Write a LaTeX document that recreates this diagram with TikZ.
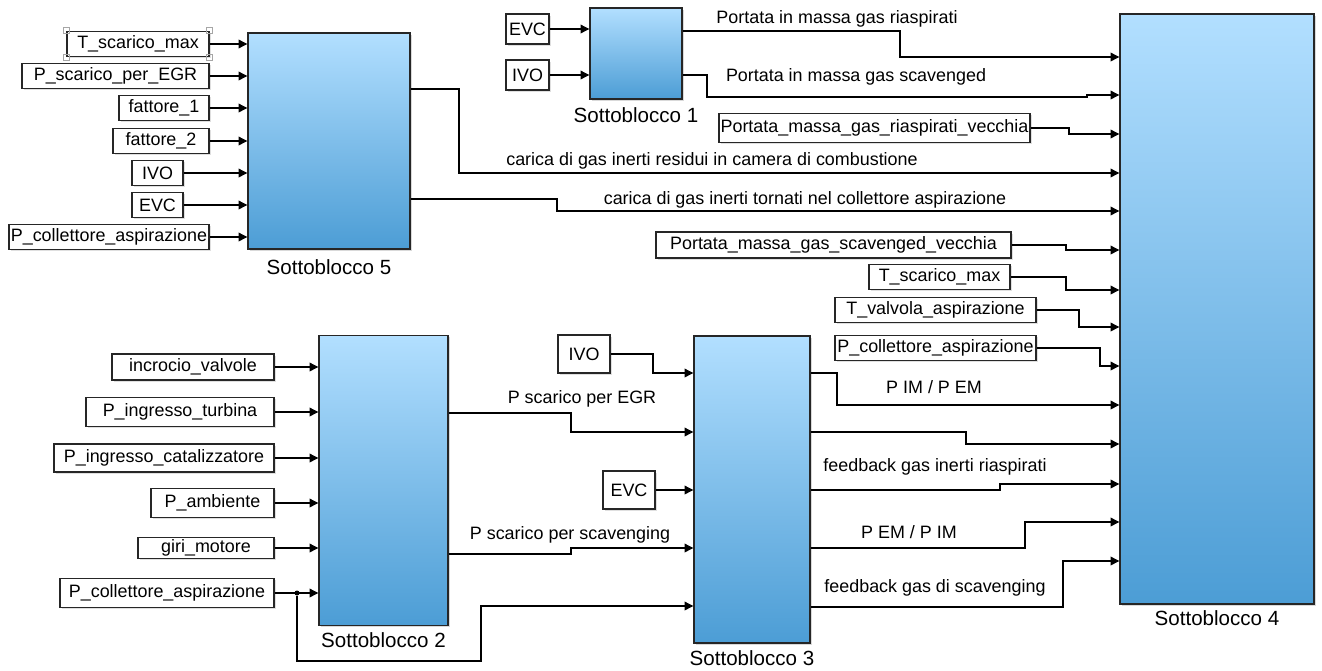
\documentclass[tikz,border=0pt]{standalone}
\usepackage{fontspec}
\setmainfont{Liberation Sans}
\usetikzlibrary{arrows.meta,positioning,shadows}
\definecolor{blktop}{RGB}{178,223,255}
\definecolor{blkbot}{RGB}{76,157,213}
\tikzset{
  blk/.style={draw=black!85, line width=0.8pt, top color=blktop, bottom color=blkbot,
    inner sep=0pt, drop shadow={shadow xshift=1pt, shadow yshift=-1pt, opacity=0.3}},
  src/.style={draw=black!85, line width=0.7pt, fill=white, inner sep=0pt,
    drop shadow={shadow xshift=1pt, shadow yshift=-1pt, opacity=0.25}},
  wire/.style={line width=0.6pt, -{Triangle[length=5pt,width=5pt]}},
  lbl/.style={inner sep=0pt},
  blklbl/.style={inner sep=0pt, font=\fontsize{11.7}{14}\selectfont},
  handle/.style={draw=gray!70, line width=0.5pt, inner sep=0pt, minimum size=0.12cm},
  dot/.style={circle, fill=black, inner sep=0pt, minimum size=0.1cm}
}
\begin{document}
\begin{tikzpicture}[x=0.02cm, y=-0.02cm, font=\fontsize{10.2}{12}\selectfont]
\useasboundingbox (0,0) rectangle (1322,670);
\node[blk, minimum width=3.24cm, minimum height=4.32cm] (s5) at (329,141) {};
\node[blk, minimum width=1.84cm, minimum height=1.82cm] (s1) at (636,53.5) {};
\node[blk, minimum width=3.88cm, minimum height=11.8cm] (s4) at (1217,309) {};
\node[blk, minimum width=2.58cm, minimum height=5.8cm] (s2) at (383.5,480.5) {};
\node[blk, minimum width=2.32cm, minimum height=6.14cm] (s3) at (752,489.5) {};
\node[blklbl, below=5.4pt of s5] (s5l) {Sottoblocco 5};
\node[blklbl, below=4.3pt of s1] (s1l) {Sottoblocco 1};
\node[blklbl, below=3.1pt of s4] (s4l) {Sottoblocco 4};
\node[blklbl, below=3.7pt of s2] (s2l) {Sottoblocco 2};
\node[blklbl, below=3.7pt of s3] (s3l) {Sottoblocco 3};
\foreach \n/\t/\x/\w/\y/\h in {t5a/T\_scarico\_max/138/142/44/25,
    t5b/P\_scarico\_per\_EGR/115.5/187/76/25, t5c/fattore\_1/164/90/108/25,
    t5d/fattore\_2/161/96/141/25, t5e/IVO/157.5/51/173/25, t5f/EVC/157.5/51/205/25,
    t5g/P\_collettore\_aspirazione/109/200/237/25} {
  \node[src, minimum width=\w*0.02cm, minimum height=\h*0.02cm] (\n) at (\x,\y) {\t};
  \draw[wire] (\n) -- (\n -| s5.west);
}
\foreach \a in {north west,north east,south west,south east}
  \node[handle] at (t5a.\a) {};
\foreach \n/\t/\y in {t1a/EVC/29, t1b/IVO/75} {
  \node[src, minimum width=0.86cm, minimum height=0.6cm] (\n) at (527.5,\y) {\t};
  \draw[wire] (\n) -- (\n -| s1.west);
}
\foreach \n/\t/\x/\w/\y/\h in {t2a/incrocio\_valvole/193/162/367/26,
    t2b/P\_ingresso\_turbina/180/188/412/29, t2c/P\_ingresso\_catalizzatore/164/220/458/28,
    t2d/P\_ambiente/212.5/123/503/29, t2e/giri\_motore/206/136/548/21,
    t2f/P\_collettore\_aspirazione/167/214/593/29} {
  \node[src, minimum width=\w*0.02cm, minimum height=\h*0.02cm] (\n) at (\x,\y) {\t};
  \draw[wire] (\n) -- (\n -| s2.west);
}
\node[src, minimum width=1.04cm, minimum height=0.76cm] (t3a) at (584,354) {IVO};
\node[src, minimum width=1.04cm, minimum height=0.76cm] (t3b) at (629,490) {EVC};
\draw[wire] (t3a) -| (653,373) -- (s3.west |- 0,373);
\draw[wire] (t3b) -- (t3b -| s3.west);
\foreach \n/\t/\x/\w/\y/\h/\xj/\ya in {
    t4a/Portata\_massa\_gas\_riaspirati\_vecchia/874.5/311/128/29/1069/134,
    t4b/Portata\_massa\_gas\_scavenged\_vecchia/833.5/355/245/26/1066/250,
    t4c/T\_scarico\_max/939.5/141/277/25/1066/290,
    t4d/T\_valvola\_aspirazione/935.5/201/310/25/1079/327,
    t4e/P\_collettore\_aspirazione/935.5/201/348/25/1100/366} {
  \node[src, minimum width=\w*0.02cm, minimum height=\h*0.02cm] (\n) at (\x,\y) {\t};
  \draw[wire] (\n) -| (\xj,\ya) -- (s4.west |- 0,\ya);
}
\draw[wire] (s1.east |- 0,31) -| (900,57) -- (s4.west |- 0,57);
\draw[wire] (s1.east |- 0,75) -| (707,97) -| (1087,95) -- (s4.west |- 0,95);
\draw[wire] (s5.east |- 0,89) -| (459,173) -- (s4.west |- 0,173);
\draw[wire] (s5.east |- 0,199) -| (557,211) -- (s4.west |- 0,211);
\draw[wire] (s2.east |- 0,413) -| (571,432) -- (s3.west |- 0,432);
\draw[wire] (s2.east |- 0,554) -| (571,548) -- (s3.west |- 0,548);
\node[dot] (jn) at (297,593) {};
\draw[wire] (jn) -- (jn |- 0,661) -| (481,606) -- (s3.west |- 0,606);
\foreach \ya/\xj/\yb in {373/837/405, 432/966/444, 490/1000/484, 548/1025/522, 607/1063/561}
  \draw[wire] (s3.east |- 0,\ya) -| (\xj,\yb) -- (s4.west |- 0,\yb);
\node[lbl] (w1) at (837,19) {Portata in massa gas riaspirati};
\node[lbl] (w2) at (856,77) {Portata in massa gas scavenged};
\node[lbl] (w3) at (712,161) {carica di gas inerti residui in camera di combustione};
\node[lbl] (w4) at (805,200) {carica di gas inerti tornati nel collettore aspirazione};
\node[lbl] (w5) at (582,399) {P scarico per EGR};
\node[lbl] (w6) at (570,535) {P scarico per scavenging};
\node[lbl] (w7) at (934,387) {P IM / P EM};
\node[lbl] (w8) at (935,467) {feedback gas inerti riaspirati};
\node[lbl] (w9) at (909,532) {P EM / P IM};
\node[lbl] (w10) at (935,588) {feedback gas di scavenging};
\end{tikzpicture}
\end{document}
